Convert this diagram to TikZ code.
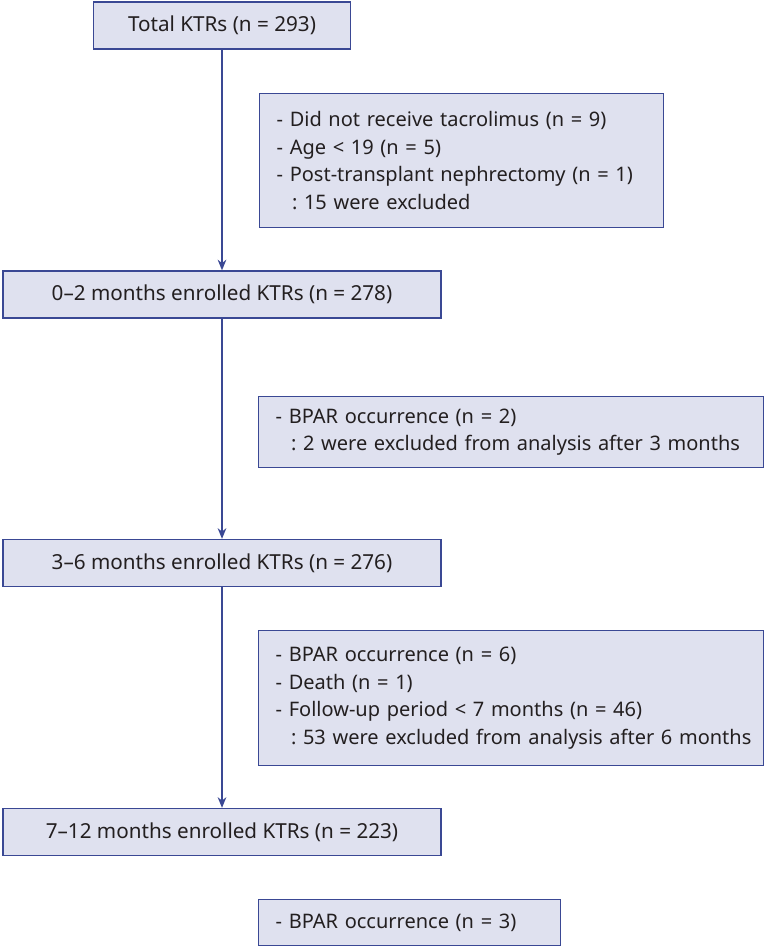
\documentclass[tikz,border=0pt]{standalone}
\usepackage{fontspec}
\setmainfont{Noto Sans}
\usetikzlibrary{arrows.meta}
\definecolor{boxblue}{HTML}{3A4894}
\definecolor{boxfill}{HTML}{DFE1EF}
\definecolor{textgray}{HTML}{231F20}
\newcommand{\sumline}[1]{\mbox{\hspace*{11.5pt}:\ #1}}

\begin{document}
\begin{tikzpicture}[x=0.75pt, y=-0.75pt,
    every node/.style={text=textgray},
    stagebox/.style={draw=boxblue, fill=boxfill, line width=1pt,
        font=\fontsize{15.5}{20.6}\selectfont,
        minimum height=35.25pt, inner sep=0pt},
    exclbox/.style={draw=boxblue, fill=boxfill, line width=1pt,
        font=\fontsize{15}{20.6}\selectfont,
        anchor=north west, align=left, inner xsep=12.75pt, inner ysep=0pt},
    flow/.style={draw=boxblue, line width=1.1pt, -{Stealth[length=8pt, width=6.5pt]}}]

\useasboundingbox (0,0) rectangle (768,949);

% Stage boxes
\node[stagebox, minimum width=192.75pt] (total) at (222,25.5) {Total KTRs (n = 293)};
\node[stagebox, minimum width=328.5pt] (m02) at (222,294.5) {0--2 months enrolled KTRs (n = 278)};
\node[stagebox, minimum width=328.5pt] (m36) at (222,563) {3--6 months enrolled KTRs (n = 276)};
\node[stagebox, minimum width=328.5pt] (m712) at (222,832) {7--12 months enrolled KTRs (n = 223)};

% Exclusion boxes
\node[exclbox, text width=277.5pt, minimum height=100.5pt] (ex1) at (259,93)
    {- Did not receive tacrolimus (n = 9)\\
     - Age < 19 (n = 5)\\
     - Post-transplant nephrectomy (n = 1)\\
     \sumline{15 were excluded}};
\node[exclbox, text width=353.25pt, minimum height=53.25pt] (ex2) at (258,396)
    {- BPAR occurrence (n = 2)\\
     \sumline{2 were excluded from analysis after 3 months}};
\node[exclbox, text width=353.25pt, minimum height=101.25pt] (ex3) at (258,630)
    {- BPAR occurrence (n = 6)\\
     - Death (n = 1)\\
     - Follow-up period < 7 months (n = 46)\\
     \sumline{53 were excluded from analysis after 6 months}};
\node[exclbox, text width=201pt, minimum height=34.5pt] (ex4) at (258,899)
    {- BPAR occurrence (n = 3)};

% Flow
\draw[flow] (total) -- (m02);
\draw[flow] (m02) -- (m36);
\draw[flow] (m36) -- (m712);

\end{tikzpicture}
\end{document}
